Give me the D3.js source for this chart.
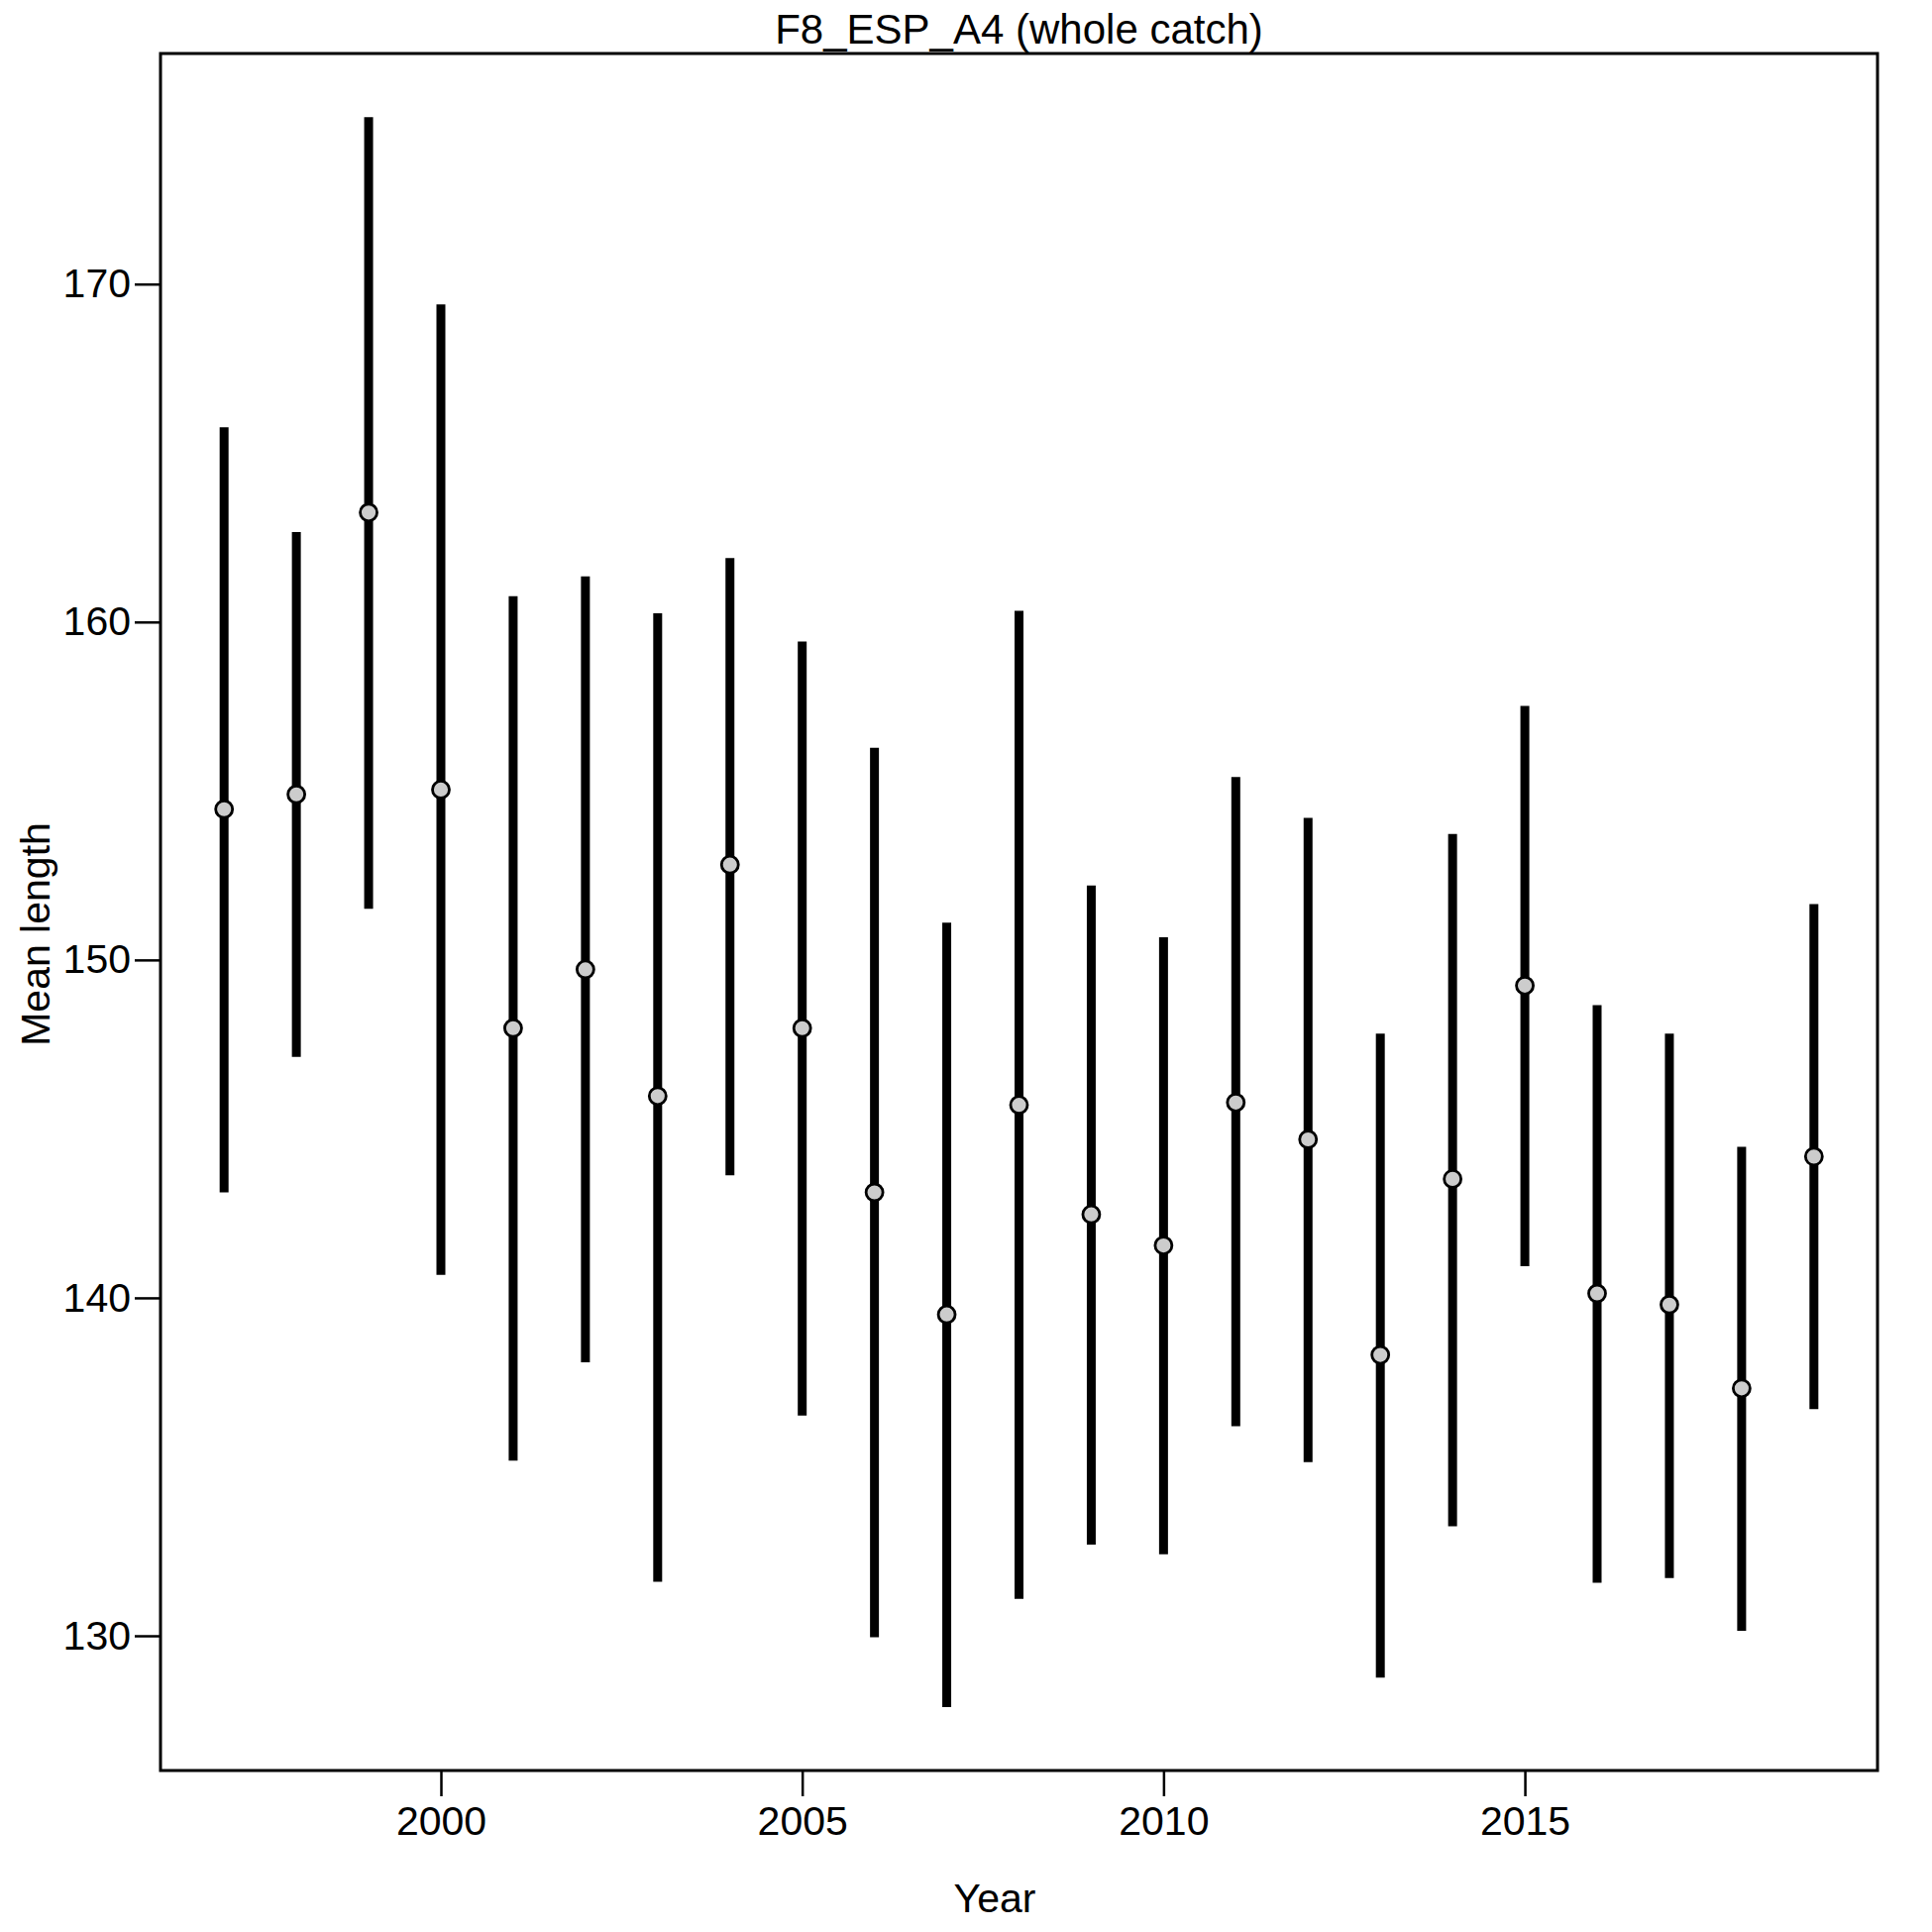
<!DOCTYPE html>
<html>
<head>
<meta charset="utf-8">
<script src="https://cdn.jsdelivr.net/npm/d3@7"></script>
<style>
html, body { margin: 0; padding: 0; background: #fff; }
svg { display: block; font-family: "Liberation Sans", Arial, sans-serif; }
</style>
</head>
<body>
<svg id="chart" width="1950" height="1950"></svg>
<script>
const years = [1997,1998,1999,2000,2001,2002,2003,2004,2005,2006,2007,2008,2009,2010,2011,2012,2013,2014,2015,2016,2017,2018,2019];
const meanLength = [154.46,154.90,163.24,155.04,147.98,149.72,145.97,152.82,147.98,143.12,139.51,145.71,142.47,141.55,145.78,144.69,138.31,143.52,149.24,140.13,139.80,137.32,144.18];
const upper = [165.76,162.66,174.94,169.40,160.76,161.35,160.26,161.89,159.42,156.28,151.10,160.33,152.20,150.67,155.41,154.20,147.82,153.73,157.52,148.66,147.82,144.47,151.65];
const lower = [143.12,147.13,151.51,140.68,135.18,138.09,131.60,143.63,136.52,129.96,127.89,131.09,132.70,132.41,136.20,135.14,128.76,133.24,140.94,131.57,131.71,130.15,136.71];
const xTicks = [2000,2005,2010,2015];
const yTicks = [130,140,150,160,170];
const title = "F8_ESP_A4 (whole catch)";
const xLabel = "Year";
const yLabel = "Mean length";

(function () {
const data = years.map((yr,i) => ({year:yr, mean:meanLength[i], hi:upper[i], lo:lower[i]}));

const pL = 162, pR = 1895, pT = 54, pB = 1787;
const svg = d3.select("#chart");

const x = d3.scaleLinear().domain([1996.12, 2019.88]).range([pL, pR]);
const y = d3.scaleLinear().domain([126.013, 176.823]).range([pB, pT]);

// y axis
const gy = svg.append("g").attr("transform", `translate(${pL},0)`)
  .call(d3.axisLeft(y).tickValues(yTicks).tickSize(26).tickPadding(4).tickFormat(d3.format("d")));
gy.select(".domain").remove();
gy.selectAll(".tick line").attr("stroke", "#000").attr("stroke-width", 2.5);
gy.selectAll(".tick text").attr("font-size", 41).attr("fill", "#000").attr("font-family", "Liberation Sans, Arial, sans-serif");

// x axis
const gx = svg.append("g").attr("transform", `translate(0,${pB})`)
  .call(d3.axisBottom(x).tickValues(xTicks).tickSize(26).tickPadding(10).tickFormat(d3.format("d")));
gx.select(".domain").remove();
gx.selectAll(".tick line").attr("stroke", "#000").attr("stroke-width", 2.5);
gx.selectAll(".tick text").attr("font-size", 41).attr("fill", "#000").attr("font-family", "Liberation Sans, Arial, sans-serif");

// error bars
svg.append("g").selectAll("line").data(data).join("line")
  .attr("x1", d => x(d.year)).attr("x2", d => x(d.year))
  .attr("y1", d => y(d.lo)).attr("y2", d => y(d.hi))
  .attr("stroke", "#000").attr("stroke-width", 9);

// points
svg.append("g").selectAll("circle").data(data).join("circle")
  .attr("cx", d => x(d.year)).attr("cy", d => y(d.mean))
  .attr("r", 8.5).attr("fill", "#cccccc").attr("stroke", "#000").attr("stroke-width", 2.8);

// box
svg.append("rect").attr("x", pL).attr("y", pT)
  .attr("width", pR-pL).attr("height", pB-pT)
  .attr("fill", "none").attr("stroke", "#000").attr("stroke-width", 3);

// title
svg.append("text").attr("x", (pL+pR)/2).attr("y", 44)
  .attr("text-anchor", "middle").attr("font-size", 42).attr("fill", "#000").text(title);

// axis labels
svg.append("text").attr("x", 1004).attr("y", 1930)
  .attr("text-anchor", "middle").attr("font-size", 41).attr("fill", "#000").text(xLabel);
svg.append("text").attr("transform", "translate(50,943) rotate(-90)")
  .attr("text-anchor", "middle").attr("font-size", 41).attr("fill", "#000").text(yLabel);
})();
</script>
</body>
</html>
